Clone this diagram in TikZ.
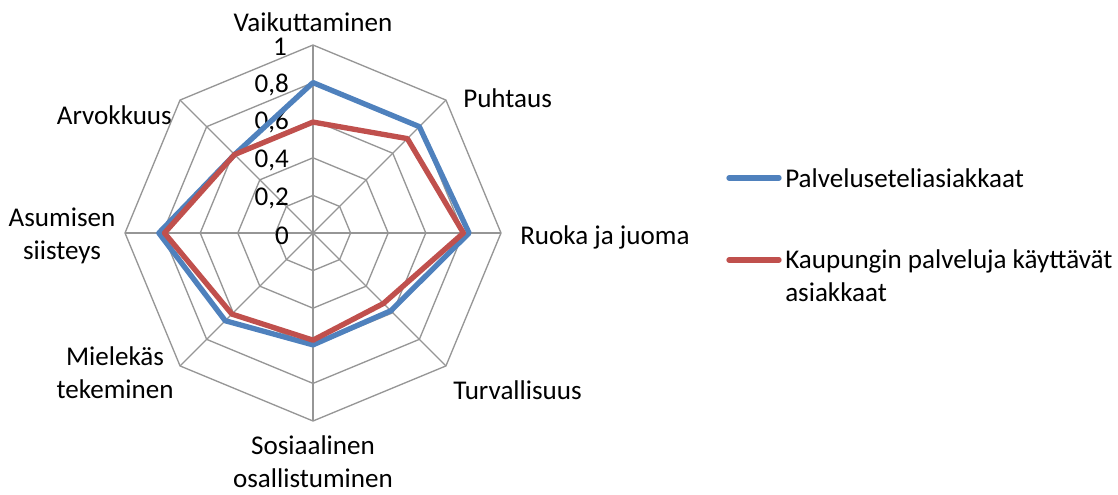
\documentclass[tikz,border=0pt]{standalone}
\usepackage{fontspec}
\setmainfont{Carlito}
\usetikzlibrary{positioning}
\definecolor{gridgray}{RGB}{150,150,150}
\definecolor{seriesblue}{RGB}{79,129,189}
\definecolor{seriesred}{RGB}{192,80,77}
\tikzset{>=stealth,
  gridline/.style={draw=gridgray, line width=1pt},
  serieline/.style={line width=4pt, line join=round},
  axislabel/.style={font=\fontsize{20.3}{25}\selectfont, inner sep=0pt, align=center},
  ticklabel/.style={font=\fontsize{20.3}{25}\selectfont, inner sep=0pt, anchor=east}}

\begin{document}
\begin{tikzpicture}[x=0.75pt, y=0.75pt]
    \useasboundingbox (0,0) rectangle (1118,494);
    \begin{scope}[shift={(313,261)}]
    % grid rings and spokes
    \foreach \r in {37.6,75.2,112.8,150.4,188}
        \draw[gridline] (90:\r) -- (45:\r) -- (0:\r) -- (-45:\r) -- (-90:\r)
            -- (-135:\r) -- (180:\r) -- (135:\r) -- cycle;
    \foreach \a in {0,45,...,315}
        \draw[gridline] (0,0) -- (\a:188);
    % tick labels
    \node[ticklabel] (t0) at (-24,-3) {0};
    \node[ticklabel] (t2) at (-24,35) {0,2};
    \node[ticklabel] (t4) at (-24,73) {0,4};
    \node[ticklabel] (t6) at (-24,111) {0,6};
    \node[ticklabel] (t8) at (-24,148) {0,8};
    \node[ticklabel] (t10) at (-26,186) {1};
    % series
    \draw[serieline, seriesblue] (90:0.8*188) -- (45:0.8*188) -- (0:0.83*188)
        -- (-45:0.585*188) -- (-90:0.595*188) -- (-135:0.66*188)
        -- (180:0.82*188) -- (135:0.59*188) -- cycle;
    \draw[serieline, seriesred] (90:0.59*188) -- (45:0.71*188) -- (0:0.8*188)
        -- (-45:0.53*188) -- (-90:0.57*188) -- (-135:0.61*188)
        -- (180:0.79*188) -- (135:0.59*188) -- cycle;
    % axis labels
    \node[axislabel] (vaik) at (0,211) {Vaikuttaminen};
    \node[axislabel, anchor=west] (puht) at (150,135) {Puhtaus};
    \node[axislabel, anchor=west] (ruoka) at (207,-4) {Ruoka ja juoma};
    \node[axislabel, anchor=west] (turv) at (140,-157) {Turvallisuus};
    \node[axislabel] (sos) at (0,-229) {Sosiaalinen\\osallistuminen};
    \node[axislabel] (miel) at (-198,-140) {Mielek\"as\\tekeminen};
    \node[axislabel] (asum) at (-251,-3) {Asumisen\\siisteys};
    \node[axislabel, anchor=east] (arvo) at (-141,118) {Arvokkuus};
    \end{scope}
    % legend
    \coordinate (lb1) at (729,316);
    \coordinate (lb2) at (779,316);
    \coordinate (lr1) at (729,234);
    \coordinate (lr2) at (779,234);
    \draw[serieline, seriesblue, line cap=round] (lb1) -- (lb2);
    \draw[serieline, seriesred, line cap=round] (lr1) -- (lr2);
    \node[axislabel, anchor=west] (legb) at (785,316) {Palveluseteliasiakkaat};
    \node[axislabel, anchor=north west, align=left] (legr) at (785,245)
        {Kaupungin palveluja k\"aytt\"av\"at\\asiakkaat};
\end{tikzpicture}
\end{document}
